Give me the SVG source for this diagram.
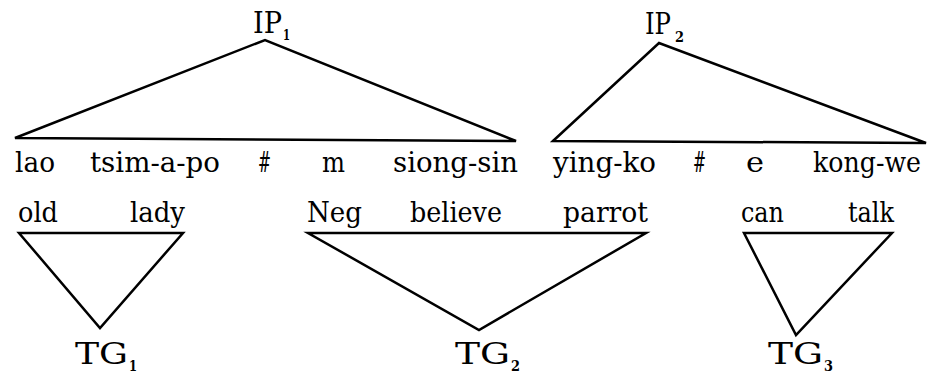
<svg xmlns="http://www.w3.org/2000/svg" width="932" height="376" viewBox="0 0 932 376">
<style>
text{font-family:"DejaVu Serif","Liberation Serif",serif;fill:#000}
.w{font-size:28px}
.lab{font-size:29px}
.sub{font-size:15px;font-weight:bold}
.tri{fill:none;stroke:#000;stroke-width:2.5;stroke-linejoin:miter}
</style>
<rect width="932" height="376" fill="#fff"/>
<g id="connectors">
<polygon class="tri" points="15,138 265,40 516,141"/>
<polygon class="tri" points="553,141 659,43 926,143"/>
<polygon class="tri" points="19,233 183,233 100,328"/>
<polygon class="tri" points="308,233 646,233 479,330"/>
<polygon class="tri" points="744,233 892,233 796,335"/>
</g>
<g id="IP1"><text class="lab" x="253" y="33" textLength="29" lengthAdjust="spacingAndGlyphs">IP</text><text class="sub" x="283" y="40" textLength="7" lengthAdjust="spacingAndGlyphs">1</text></g>
<g id="IP2"><text class="lab" x="645" y="34" textLength="26" lengthAdjust="spacingAndGlyphs">IP</text><text class="sub" x="675" y="42" textLength="9" lengthAdjust="spacingAndGlyphs">2</text></g>
<g id="TG1"><text class="lab" x="75" y="364" textLength="53" lengthAdjust="spacingAndGlyphs">TG</text><text class="sub" x="129" y="371" textLength="8" lengthAdjust="spacingAndGlyphs">1</text></g>
<g id="TG2"><text class="lab" x="455" y="364" textLength="55" lengthAdjust="spacingAndGlyphs">TG</text><text class="sub" x="511" y="371" textLength="9" lengthAdjust="spacingAndGlyphs">2</text></g>
<g id="TG3"><text class="lab" x="768" y="364" textLength="55" lengthAdjust="spacingAndGlyphs">TG</text><text class="sub" x="824" y="371" textLength="9" lengthAdjust="spacingAndGlyphs">3</text></g>
<g id="words-top">
<text class="w" x="15" y="172" textLength="40" lengthAdjust="spacingAndGlyphs">lao</text>
<text class="w" x="90" y="172" textLength="130" lengthAdjust="spacingAndGlyphs">tsim-a-po</text>
<text class="w" x="258" y="172" textLength="13" lengthAdjust="spacingAndGlyphs">#</text>
<text class="w" x="322" y="172" textLength="23" lengthAdjust="spacingAndGlyphs">m</text>
<text class="w" x="393" y="172" textLength="125" lengthAdjust="spacingAndGlyphs">siong-sin</text>
<text class="w" x="553" y="172" textLength="103" lengthAdjust="spacingAndGlyphs">ying-ko</text>
<text class="w" x="693" y="172" textLength="13" lengthAdjust="spacingAndGlyphs">#</text>
<text class="w" x="746" y="172" textLength="18" lengthAdjust="spacingAndGlyphs">e</text>
<text class="w" x="813" y="172" textLength="108" lengthAdjust="spacingAndGlyphs">kong-we</text>
</g>
<g id="words-bottom">
<text class="w" x="18" y="222" textLength="40" lengthAdjust="spacingAndGlyphs">old</text>
<text class="w" x="130" y="222" textLength="55" lengthAdjust="spacingAndGlyphs">lady</text>
<text class="w" x="307" y="222" textLength="55" lengthAdjust="spacingAndGlyphs">Neg</text>
<text class="w" x="410" y="222" textLength="92" lengthAdjust="spacingAndGlyphs">believe</text>
<text class="w" x="563" y="222" textLength="85" lengthAdjust="spacingAndGlyphs">parrot</text>
<text class="w" x="741" y="222" textLength="43" lengthAdjust="spacingAndGlyphs">can</text>
<text class="w" x="848" y="222" textLength="46" lengthAdjust="spacingAndGlyphs">talk</text>
</g>
</svg>
